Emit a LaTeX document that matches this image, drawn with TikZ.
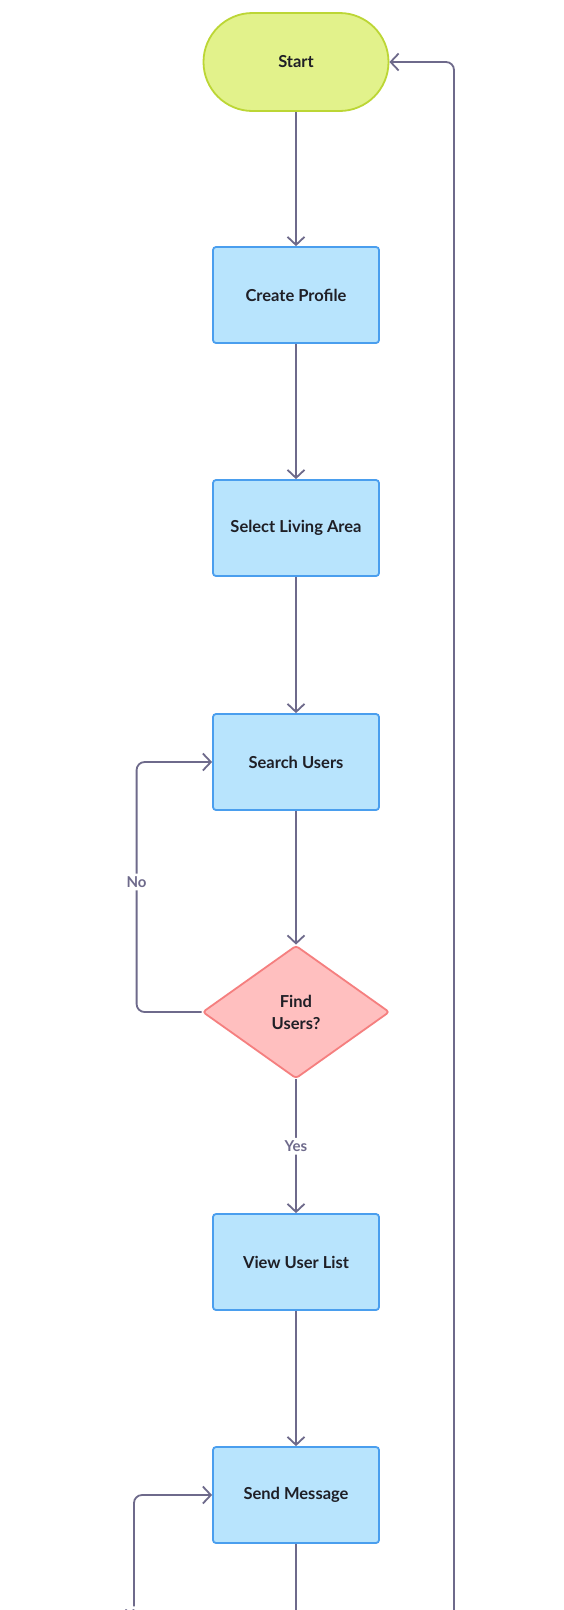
\documentclass[tikz,border=0pt]{standalone}
\usepackage{fontspec}
\setmainfont{Lato}
\usetikzlibrary{shapes.geometric,arrows.meta}

\definecolor{startfill}{HTML}{E2F28B}
\definecolor{startline}{HTML}{BCD635}
\definecolor{boxfill}{HTML}{B8E4FD}
\definecolor{boxline}{HTML}{4A9EEE}
\definecolor{askfill}{HTML}{FFBFBF}
\definecolor{askline}{HTML}{F57F7F}
\definecolor{wire}{HTML}{6E6A8B}
\definecolor{ink}{HTML}{1F1F26}

\tikzset{
    terminal/.style={rectangle, rounded corners=49pt, draw=startline, fill=startfill, line width=1.8pt,
        minimum width=185pt, minimum height=98pt, text=ink, font=\bfseries\fontsize{16.5}{20}\selectfont},
    stepbox/.style={rectangle, rounded corners=3pt, draw=boxline, fill=boxfill, line width=1.8pt,
        minimum width=166pt, minimum height=96pt, text=ink, font=\bfseries\fontsize{16.5}{20}\selectfont},
    ask/.style={diamond, rounded corners=3pt, draw=askline, fill=askfill, line width=1.8pt,
        minimum width=187pt, minimum height=133pt, inner sep=0pt, align=center, text=ink,
        font=\bfseries\fontsize{16.5}{22}\selectfont},
    arr/.style={draw=wire, line width=1.8pt, rounded corners=8pt, -{Straight Barb[length=8pt,width=17pt]}},
    lbl/.style={fill=white, text=wire, inner sep=3pt, font=\bfseries\fontsize{15}{17}\selectfont}
}

\begin{document}
\begin{tikzpicture}[x=1pt, y=-1pt]
    \useasboundingbox[fill=white] (0,0) rectangle (563,1610);

    \path node[terminal] (start) at (296,62) {Start}
        node[stepbox] (profile) at (296,295) {Create Profile}
        node[stepbox] (area) at (296,528) {Select Living Area}
        node[stepbox] (search) at (296,762) {Search Users}
        node[ask] (find) at (296,1012) {Find\\Users?}
        node[stepbox] (list) at (296,1262) {View User List}
        node[stepbox] (send) at (296,1495) {Send Message};

    % loose ends, cut off at the bottom edge
    \coordinate (sendcut) at (296,1620);
    \coordinate (backcut) at (454,1620);
    \node[lbl] (nolow) at (134,1615) {No};

    \draw[arr] (start) -- (profile);
    \draw[arr] (profile) -- (area);
    \draw[arr] (area) -- (search);
    \draw[arr] (search) -- (find);
    \draw[arr] (find.west) -- ++(-65,0) |- node[lbl, pos=0.26] {No} (search.west);
    \draw[arr] (find.south) -- node[lbl] {Yes} (list.north);
    \draw[arr] (list) -- (send);
    \draw[arr] (nolow.north) |- (send.west);
    \draw[draw=wire, line width=1.8pt] (send.south) -- (sendcut);
    \draw[arr] (backcut) |- (start.east);
\end{tikzpicture}
\end{document}
